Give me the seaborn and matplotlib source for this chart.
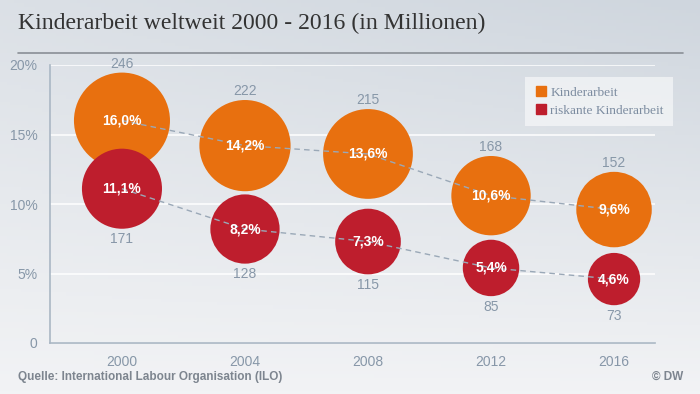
import numpy as np
import pandas as pd
import matplotlib
matplotlib.use("Agg")
import matplotlib.pyplot as plt
import seaborn as sns
from matplotlib.lines import Line2D
from matplotlib.colors import LinearSegmentedColormap

years = ["2000", "2004", "2008", "2012", "2016"]
share_all = [16.0, 14.2, 13.6, 10.6, 9.6]
share_risk = [11.1, 8.2, 7.3, 5.4, 4.6]
mio_all = [246, 222, 215, 168, 152]
mio_risk = [171, 128, 115, 85, 73]
series_names = ["Kinderarbeit", "riskante Kinderarbeit"]
ytick_labels = ["0", "5%", "10%", "15%", "20%"]

ORANGE = "#e8700f"
RED = "#be1e2d"
TICK = "#8797a8"

df = pd.DataFrame({
    "year": years * 2,
    "share": share_all + share_risk,
    "mio": mio_all + mio_risk,
    "series": [series_names[0]] * 5 + [series_names[1]] * 5,
})
df["xpos"] = [years.index(y) for y in df["year"]]

sns.set_style("white")
fig = plt.figure(figsize=(7, 3.94), dpi=100)

# background gradient
bg = fig.add_axes([0, 0, 1, 1], zorder=-10)
gx = np.linspace(0, 1, 200)
gy = np.linspace(0, 1, 120)
X, Y = np.meshgrid(gx, gy)
G = 0.65 * Y + 0.35 * X * Y
cmap = LinearSegmentedColormap.from_list("bg", ["#f2f3f5", "#cfd6de"])
bg.imshow(G, cmap=cmap, aspect="auto", origin="lower", extent=[0, 1, 0, 1])
bg.axis("off")

ax = fig.add_axes([50 / 700, 1 - 343 / 394, 605 / 700, 278 / 394])
ax.patch.set_alpha(0)

SMAX = 4780  # points^2 for the largest bubble (246)
for ys in [share_all, share_risk]:
    ax.plot(range(5), ys, ls=(0, (4, 3)), color="#9aa8b7", lw=1, zorder=5)

sns.scatterplot(data=df, x="xpos", y="share", hue="series", size="mio",
                palette={series_names[0]: ORANGE, series_names[1]: RED},
                sizes=(0, SMAX), size_norm=(0, 246), linewidth=0,
                alpha=1, legend=False, ax=ax, zorder=3, clip_on=False)
for coll in ax.collections:
    coll.set_zorder(3)

K = SMAX / 246
for i in range(5):
    for vals, ys, off in [(mio_all, share_all, 6.5), (mio_risk, share_risk, -7.5)]:
        r_pt = np.sqrt(vals[i] * K) / 2
        ax.annotate(f"{ys[i]:.1f}%".replace(".", ","), (i, ys[i]),
                    ha="center", va="center", color="white", fontsize=10,
                    fontweight="bold", family="Liberation Sans", zorder=6)
        ax.annotate(str(vals[i]), (i, ys[i]),
                    xytext=(0, np.sign(off) * r_pt + off),
                    textcoords="offset points", ha="center", va="center",
                    color=TICK, fontsize=10, family="Liberation Sans", zorder=6)

ax.set_xlim(-0.585, 4.333)
ax.set_ylim(0, 20)
ax.set_xticks(range(5))
ax.set_xticklabels(years)
ax.set_yticks([0, 5, 10, 15, 20])
ax.set_yticklabels(ytick_labels)
ax.set_xlabel("")
ax.set_ylabel("")
ax.tick_params(axis="both", colors=TICK, labelsize=10, length=0, pad=9)
for lab in ax.get_xticklabels() + ax.get_yticklabels():
    lab.set_family("Liberation Sans")
ax.grid(axis="y", color="white", lw=1.2, alpha=0.9)
ax.set_axisbelow(True)
for s in ["top", "right"]:
    ax.spines[s].set_visible(False)
for s in ["left", "bottom"]:
    ax.spines[s].set_color("#aab7c4")
    ax.spines[s].set_linewidth(1.2)

handles = [Line2D([], [], marker="s", ls="", color=ORANGE, markersize=7),
           Line2D([], [], marker="s", ls="", color=RED, markersize=7)]
leg = ax.legend(handles, series_names, loc="upper left",
                bbox_to_anchor=(475 / 605, (343 - 77) / 278), borderaxespad=0,
                frameon=True, prop={"family": "Liberation Serif", "size": 9.6},
                handletextpad=0.2, borderpad=0.7, labelspacing=0.45,
                handlelength=1.0, fancybox=False)
leg.get_frame().set_facecolor("white")
leg.get_frame().set_alpha(0.55)
leg.get_frame().set_linewidth(0)
for t in leg.get_texts():
    t.set_color("#7c8ca0")

fig.text(18 / 700, 1 - 23 / 394, "Kinderarbeit weltweit 2000 - 2016 (in Millionen)",
         family="Liberation Serif", fontsize=17.1, color="#333333", va="center", ha="left")
fig.add_artist(Line2D([18 / 700, 683 / 700], [1 - 53 / 394] * 2, color="#8a8f96", lw=1.2))
fig.text(18 / 700, 1 - 377 / 394, "Quelle: International Labour Organisation (ILO)",
         family="Liberation Sans", fontsize=8.5, fontweight="bold", color="#7d858f",
         va="center", ha="left")
fig.text(683 / 700, 1 - 377 / 394, "© DW", family="Liberation Sans", fontsize=8.5,
         fontweight="bold", color="#7d858f", va="center", ha="right")

fig.savefig("out.png", dpi=100)
